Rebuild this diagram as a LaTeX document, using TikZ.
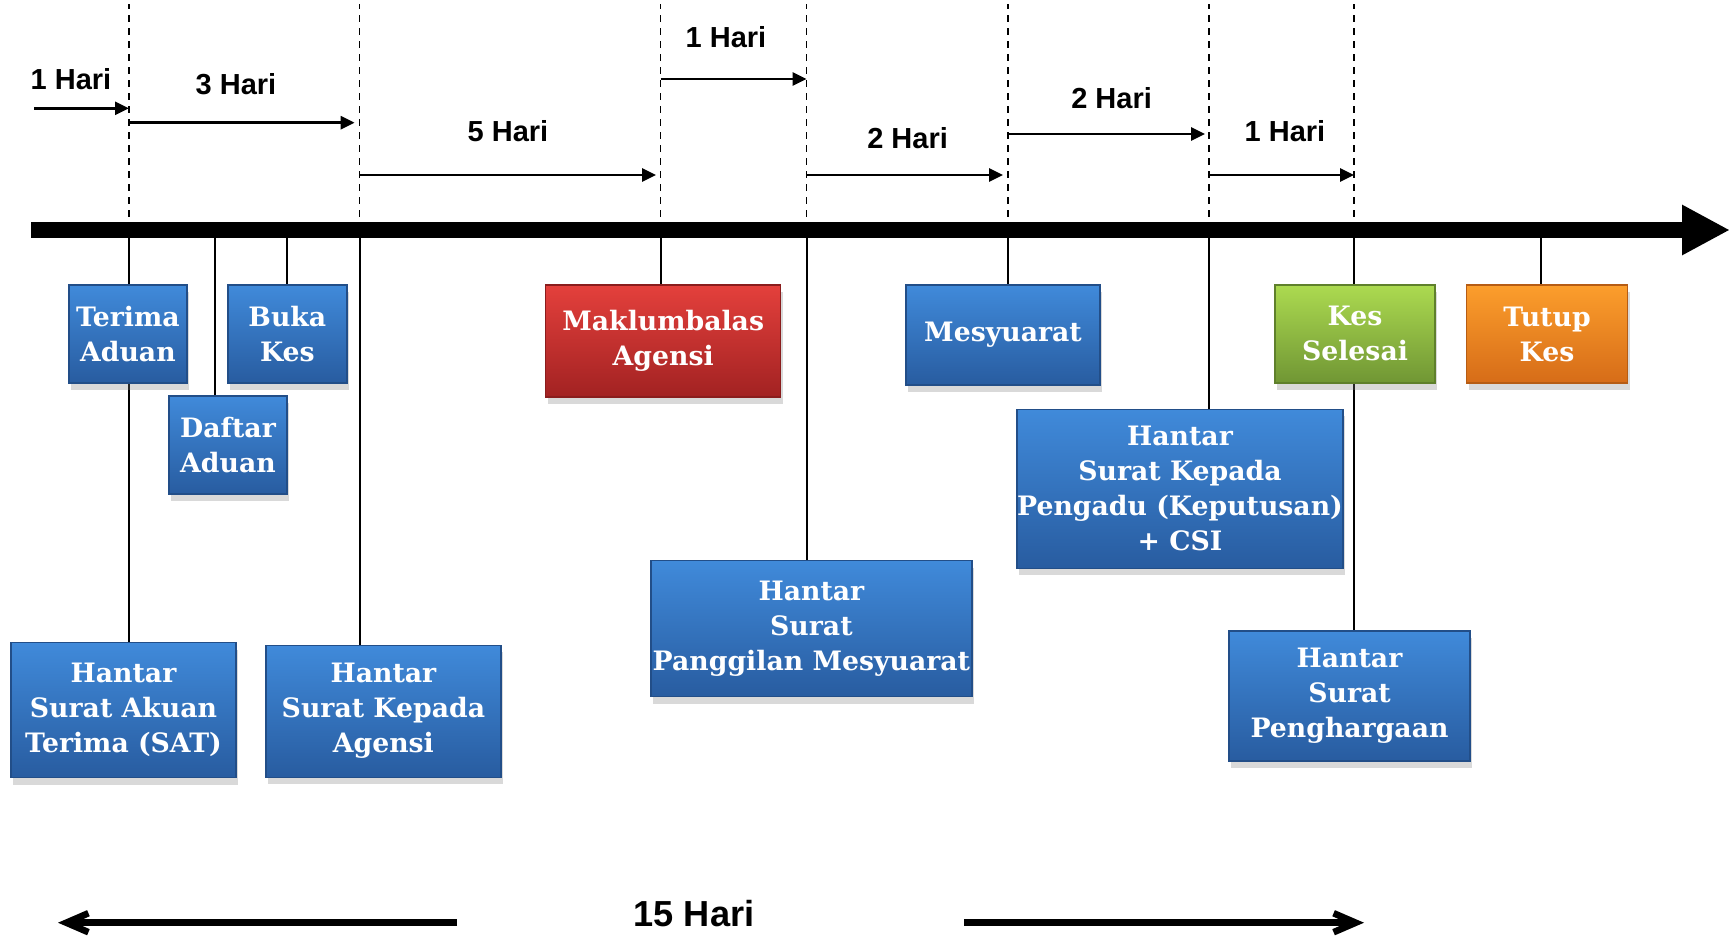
\documentclass[tikz,border=0pt]{standalone}
\usepackage{fontspec}
\setmainfont{Liberation Sans}
\newfontfamily\boxfont{DejaVu Serif}
\usetikzlibrary{arrows.meta,shadows,backgrounds}

\definecolor{blueTop}{RGB}{64,138,218}
\definecolor{blueBot}{RGB}{40,92,160}
\definecolor{redTop}{RGB}{228,64,60}
\definecolor{redBot}{RGB}{162,34,34}
\definecolor{greenTop}{RGB}{172,218,80}
\definecolor{greenBot}{RGB}{112,150,52}
\definecolor{orangeTop}{RGB}{252,158,44}
\definecolor{orangeBot}{RGB}{214,108,24}

\tikzset{
  stage/.style={rectangle, inner sep=0pt, text=white, align=center,
    font=\boxfont\bfseries\fontsize{7.6}{9.96}\selectfont,
    drop shadow={shadow xshift=0.2mm, shadow yshift=-0.7mm, opacity=0.3}},
  bluebox/.style={stage, top color=blueTop, bottom color=blueBot, draw=blueBot!85!black, line width=0.4pt},
  redbox/.style={stage, top color=redTop, bottom color=redBot, draw=redBot!85!black, line width=0.4pt},
  greenbox/.style={stage, top color=greenTop, bottom color=greenBot, draw=greenBot!85!black, line width=0.4pt},
  orangebox/.style={stage, top color=orangeTop, bottom color=orangeBot, draw=orangeBot!85!black, line width=0.4pt},
  guide/.style={dash pattern=on 2pt off 1.7pt, line width=0.5pt},
  timeline/.style={line width=0.16cm, -{Triangle[length=4.8mm,width=4.7mm]}},
  dur/.style={line width=0.8pt, -{Triangle[length=1.4mm,width=1.3mm]}},
  hari/.style={font=\bfseries\fontsize{8.25}{10}\selectfont},
  link/.style={line width=0.6pt},
  span/.style={line width=1.9pt, -{Straight Barb[length=2.2mm,width=1.9mm]}}
}

\begin{document}
\begin{tikzpicture}
    \useasboundingbox (0,0) rectangle (17.35,9.37);

    \coordinate (m0) at (1.29,7.07);
    \coordinate (m1) at (3.596,7.07);
    \coordinate (m2) at (6.606,7.07);
    \coordinate (m3) at (8.066,7.07);
    \coordinate (m4) at (10.08,7.07);
    \coordinate (m5) at (12.09,7.07);
    \coordinate (m6) at (13.54,7.07);
    \coordinate (k1) at (2.153,7.07);
    \coordinate (k2) at (2.873,7.07);
    \coordinate (k3) at (15.41,7.07);

    \draw[guide] (m0) -- ++(0,2.26);
    \draw[guide] (m1) -- ++(0,2.26);
    \draw[guide] (m2) -- ++(0,2.26);
    \draw[guide] (m3) -- ++(0,2.26);
    \draw[guide] (m4) -- ++(0,2.26);
    \draw[guide] (m5) -- ++(0,2.26);
    \draw[guide] (m6) -- ++(0,2.26);

    \coordinate (start) at (0.31,7.07);
    \coordinate (end) at (17.30,7.07);
    \draw[timeline] (start) -- (end);

    \coordinate (s0) at (0.344,8.287);
    \draw[dur] (s0) -- (s0 -| m0);
    \node[hari] (h1) at (0.71,8.58) {1 Hari};

    \draw[dur, shorten >=0.5mm] (m0 |- 0,8.143) -- (m1 |- 0,8.143);
    \node[hari] (h2) at (2.36,8.53) {3 Hari};

    \draw[dur, shorten >=0.45mm] (m1 |- 0,7.62) -- (m2 |- 0,7.62);
    \node[hari] (h3) at (5.08,8.054) {5 Hari};

    \draw[dur] (m2 |- 0,8.58) -- (m3 |- 0,8.58);
    \node[hari] (h4) at (7.26,8.995) {1 Hari};

    \draw[dur, shorten >=0.5mm] (m3 |- 0,7.62) -- (m4 |- 0,7.62);
    \node[hari] (h5) at (9.076,7.99) {2 Hari};

    \draw[dur, shorten >=0.4mm] (m4 |- 0,8.03) -- (m5 |- 0,8.03);
    \node[hari] (h6) at (11.116,8.39) {2 Hari};

    \draw[dur] (m5 |- 0,7.62) -- (m6 |- 0,7.62);
    \node[hari] (h7) at (12.85,8.06) {1 Hari};

    \node[bluebox, minimum width=1.18cm, minimum height=0.98cm] (terima) at (1.279,6.031) {Terima\\Aduan};
    \node[bluebox, minimum width=1.19cm, minimum height=0.98cm] (buka) at (2.874,6.03) {Buka\\Kes};
    \node[bluebox, minimum width=1.18cm, minimum height=0.98cm] (daftar) at (2.28,4.92) {Daftar\\Aduan};
    \node[bluebox, minimum width=2.25cm, minimum height=1.35cm] (sat) at (1.235,2.27) {Hantar\\Surat Akuan\\Terima (SAT)};
    \node[bluebox, minimum width=2.35cm, minimum height=1.32cm] (agensi) at (3.834,2.258) {Hantar\\Surat Kepada\\Agensi};
    \node[redbox, minimum width=2.35cm, minimum height=1.12cm] (maklum) at (6.632,5.962) {Maklumbalas\\Agensi};
    \node[bluebox, minimum width=3.21cm, minimum height=1.36cm] (panggil) at (8.114,3.083) {Hantar\\Surat\\Panggilan Mesyuarat};
    \node[bluebox, minimum width=1.94cm, minimum height=1.0cm] (mesyuarat) at (10.03,6.02) {Mesyuarat};
    \node[bluebox, minimum width=3.2cm, minimum height=1.59cm] (pengadu) at (11.80,4.482) {Hantar\\Surat Kepada\\Pengadu (Keputusan)\\+ CSI};
    \node[greenbox, minimum width=1.6cm, minimum height=0.98cm] (selesai) at (13.55,6.031) {Kes\\Selesai};
    \node[orangebox, minimum width=1.61cm, minimum height=0.98cm] (tutup) at (15.47,6.029) {Tutup\\Kes};
    \node[bluebox, minimum width=2.41cm, minimum height=1.3cm] (hargaan) at (13.495,2.411) {Hantar\\Surat\\Penghargaan};

    \begin{scope}[on background layer]
    \draw[link] (m0) -- (m0 |- terima.north);
    \draw[link] (m0 |- terima.south) -- (m0 |- sat.north);
    \draw[link] (k1) -- (k1 |- daftar.north);
    \draw[link] (k2) -- (k2 |- buka.north);
    \draw[link] (m1) -- (m1 |- agensi.north);
    \draw[link] (m2) -- (m2 |- maklum.north);
    \draw[link] (m3) -- (m3 |- panggil.north);
    \draw[link] (m4) -- (m4 |- mesyuarat.north);
    \draw[link] (m5) -- (m5 |- pengadu.north);
    \draw[link] (m6) -- (m6 |- selesai.north);
    \draw[link] (m6 |- selesai.south) -- (m6 |- hargaan.north);
    \draw[link] (k3) -- (k3 |- tutup.north);
    \end{scope}

    \node[font=\bfseries\fontsize{10.3}{12}\selectfont] (total) at (6.94,0.235) {15 Hari};
    \coordinate (b0) at (4.57,0.143);
    \coordinate (b1) at (0.58,0.143);
    \coordinate (b2) at (9.64,0.143);
    \coordinate (b3) at (13.64,0.143);
    \draw[span] (b0) -- (b1);
    \draw[span] (b2) -- (b3);
\end{tikzpicture}
\end{document}
